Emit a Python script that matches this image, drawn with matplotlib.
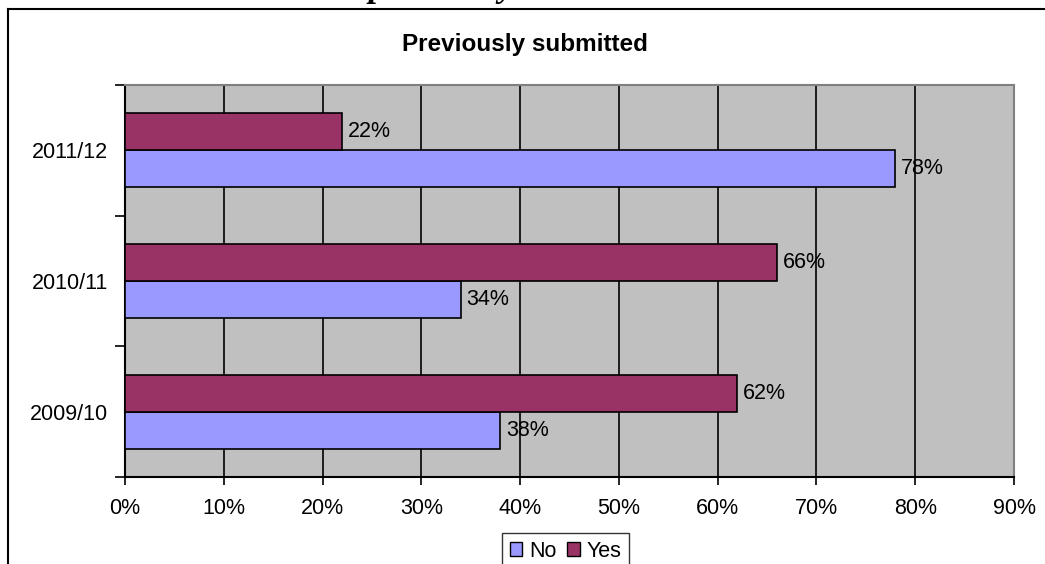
import matplotlib
matplotlib.use("Agg")
import matplotlib.pyplot as plt
from matplotlib.lines import Line2D
from matplotlib.patches import Patch
import numpy as np

categories = ["2009/10", "2010/11", "2011/12"]
no_values = [38, 34, 78]
yes_values = [62, 66, 22]
xticks = [0, 10, 20, 30, 40, 50, 60, 70, 80, 90]

W, H = 1045, 564
fig = plt.figure(figsize=(W / 100, H / 100), dpi=100)
plt.rcParams['font.family'] = ['Liberation Sans', 'DejaVu Sans']
FS = 15.5

# outer frame
fig.add_artist(Line2D([8 / W, 8 / W], [0, 1 - 9 / H], color='black', lw=1.5, transform=fig.transFigure))
fig.add_artist(Line2D([8 / W, 1], [1 - 9 / H, 1 - 9 / H], color='black', lw=1.5, transform=fig.transFigure))

# clipped heading from the page above (only descenders visible)
fig.text(442 / W, 1 + 4 / H, "previously", ha='center', va='baseline',
         family='Liberation Serif', style='italic', weight='bold', fontsize=25)

ax = fig.add_axes([125 / W, 1 - 477 / H, (1014 - 125) / W, (477 - 85) / H])
ax.set_facecolor('#C0C0C0')

y = np.arange(len(categories))
bh = 0.282
bars_no = ax.barh(y - bh / 2, no_values, height=bh, color='#9999FF', edgecolor='black', linewidth=1.2, zorder=3)
bars_yes = ax.barh(y + bh / 2, yes_values, height=bh, color='#993366', edgecolor='black', linewidth=1.2, zorder=3)

for bars, vals in ((bars_no, no_values), (bars_yes, yes_values)):
    for b, v in zip(bars, vals):
        ax.annotate(f"{v}%", (v, b.get_y() + b.get_height() / 2), xytext=(4, 0),
                    textcoords='offset points', va='center', ha='left', fontsize=FS)

ax.set_xlim(0, 90)
ax.set_ylim(-0.5, len(categories) - 0.5)
ax.set_xticks(xticks)
ax.set_xticklabels([f"{t}%" for t in xticks], fontsize=FS)
ax.xaxis.grid(True, color='black', linewidth=1.2, zorder=1)
ax.set_axisbelow(True)
ax.set_yticks(y)
ax.set_yticklabels(categories, fontsize=FS)
ax.set_yticks(np.arange(-0.5, len(categories)), minor=True)
ax.tick_params(axis='y', which='major', length=0, pad=12)
ax.tick_params(axis='y', which='minor', length=7, width=1.2, direction='out')
ax.tick_params(axis='x', length=6, width=1.2, direction='out', pad=9)
for s in ['top', 'right']:
    ax.spines[s].set_color('#808080')
    ax.spines[s].set_linewidth(1.5)
ax.spines['left'].set_linewidth(1.5)
ax.spines['bottom'].set_linewidth(1.5)

fig.text(525 / W, 1 - 45 / H, "Previously submitted", ha='center', va='center',
         fontsize=17.5, weight='bold')

handles = [Patch(facecolor='#9999FF', edgecolor='black'), Patch(facecolor='#993366', edgecolor='black')]
leg = fig.legend(handles, ["No", "Yes"], loc='upper left', bbox_to_anchor=(502 / W, 1 - 533 / H),
                 ncol=2, fontsize=FS, frameon=True, fancybox=False, edgecolor='black',
                 handlelength=0.6, handleheight=0.6, handletextpad=0.3, columnspacing=0.5,
                 borderpad=0.35, borderaxespad=0)
leg.get_frame().set_linewidth(1.0)

fig.savefig("out.png", dpi=100)
